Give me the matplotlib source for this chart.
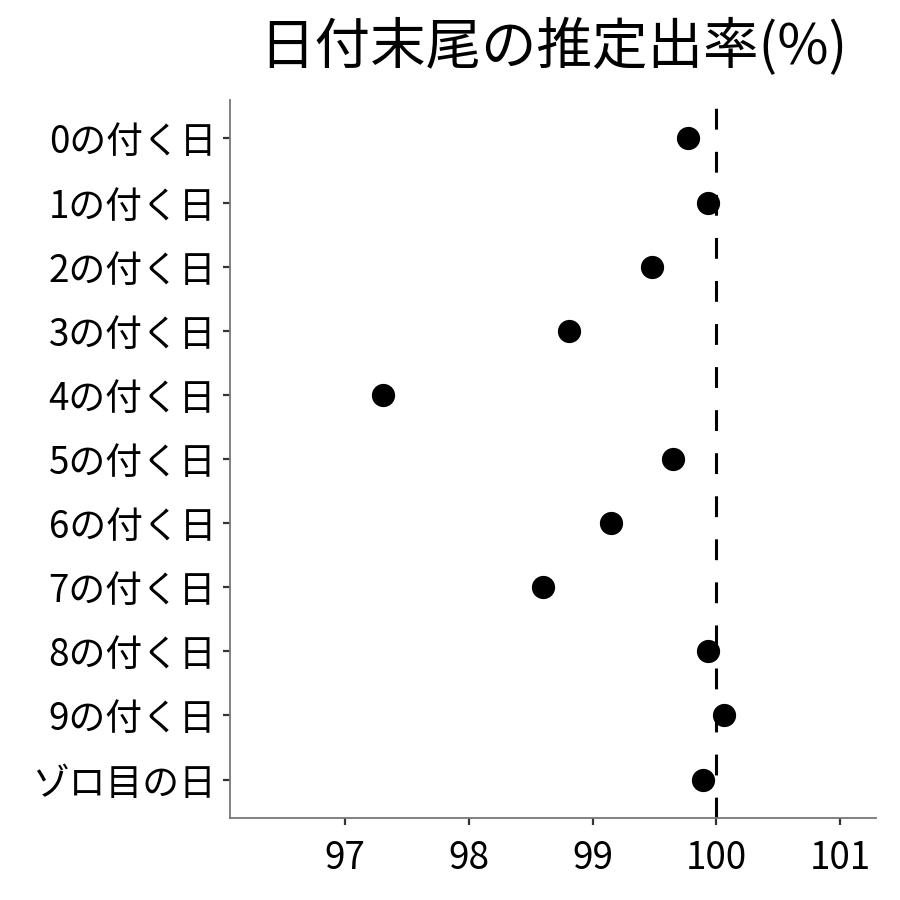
import numpy as np
import matplotlib
matplotlib.use('Agg')
import matplotlib.pyplot as plt

plt.rcParams['font.family'] = ['Noto Sans CJK JP', 'DejaVu Sans']

# categories and estimated rates (%)
labels = ['0の付く日', '1の付く日', '2の付く日', '3の付く日', '4の付く日',
          '5の付く日', '6の付く日', '7の付く日', '8の付く日', '9の付く日', 'ゾロ目の日']
rates = [99.77, 99.93, 99.48, 98.81, 97.31, 99.65, 99.15, 98.60, 99.93, 100.06, 99.89]
xticks = [97, 98, 99, 100, 101]
ref_line = 100

fig = plt.figure(figsize=(9, 9), dpi=100)
ax = fig.add_axes([230/900, 1-818/900, (876-230)/900, (818-100)/900])

ypos = np.arange(len(labels))
lw = 2.2
ax.axvline(ref_line, color='black', lw=lw, linestyle=(0, (15/lw, 16/lw)), zorder=1)
ax.scatter(rates, ypos, s=280, color='black', zorder=3, linewidths=0)

ax.set_yticks(ypos)
ax.set_yticklabels(labels)
ax.set_xticks(xticks)
ax.set_xticklabels([str(t) for t in xticks])
ax.set_ylim(len(labels) - 0.4, -0.6)
ax.set_xlim(96.07, 101.29)

for s in ['top', 'right']:
    ax.spines[s].set_visible(False)
for s in ['left', 'bottom']:
    ax.spines[s].set_color('#777777')
    ax.spines[s].set_linewidth(1.3)

ax.tick_params(axis='both', length=5, width=1.6, color='#333333', labelsize=26.5,
               labelcolor='black')
ax.tick_params(axis='y', pad=5)
ax.tick_params(axis='x', pad=10)

ax.set_title('日付末尾の推定出率(%)', fontsize=40, pad=26)

fig.savefig('out.png', dpi=100)
